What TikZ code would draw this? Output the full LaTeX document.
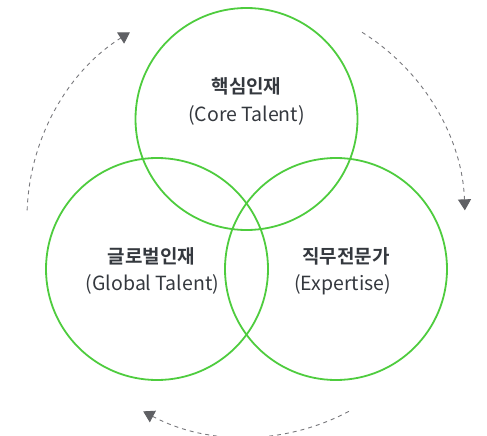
\documentclass[tikz,border=0pt]{standalone}
\usepackage{fontspec}
\setmainfont{Noto Sans CJK KR}[BoldFont={Noto Sans CJK KR Bold}]
\usetikzlibrary{arrows.meta}
\definecolor{ringgreen}{RGB}{78,204,62}
\definecolor{flowgray}{RGB}{120,120,124}
\definecolor{tipgray}{RGB}{95,96,100}
\definecolor{inkgray}{RGB}{52,56,62}

\begin{document}
\begin{tikzpicture}[x=1pt, y=1pt,
  ring/.style={circle, draw=ringgreen, line width=1.8pt, minimum size=222pt, inner sep=0pt},
  title/.style={font=\bfseries\fontsize{19}{22}\selectfont, text=inkgray},
  subtitle/.style={font=\fontsize{19.5}{22}\selectfont, text=inkgray},
  flow/.style={draw=flowgray, line width=0.9pt, dash pattern=on 4pt off 4pt,
    -{Triangle[length=11pt, width=13pt, color=tipgray, fill=tipgray]}}]
  \useasboundingbox (0,0) rectangle (487,-436);

  % the three rings
  \node[ring] (core)   at (246.5,-119) {};
  \node[ring] (global) at (157,-269) {};
  \node[ring] (expert) at (336,-269) {};

  \node[title]    (coret) at (246.5,-86.5) {핵심인재};
  \node[subtitle] (cores) at (246.5,-115)  {(Core Talent)};
  \node[title]    (globt) at (151.5,-256.5) {글로벌인재};
  \node[subtitle] (globs) at (152.5,-284.5) {(Global Talent)};
  \node[title]    (expt)  at (346,-256.5)  {직무전문가};
  \node[subtitle] (exps)  at (342.5,-284.5) {(Expertise)};

  % dashed cycle around the rings
  \def\rad{219}
  \coordinate (C) at (246,-218);
  \draw[flow] ([shift={(178:\rad)}]C) arc[start angle=178, end angle=122, radius=\rad];
  \draw[flow] ([shift={(58:\rad)}]C) arc[start angle=58, end angle=2, radius=\rad];
  \draw[flow] ([shift={(-62:\rad)}]C) arc[start angle=-62, end angle=-118, radius=\rad];
\end{tikzpicture}
\end{document}
